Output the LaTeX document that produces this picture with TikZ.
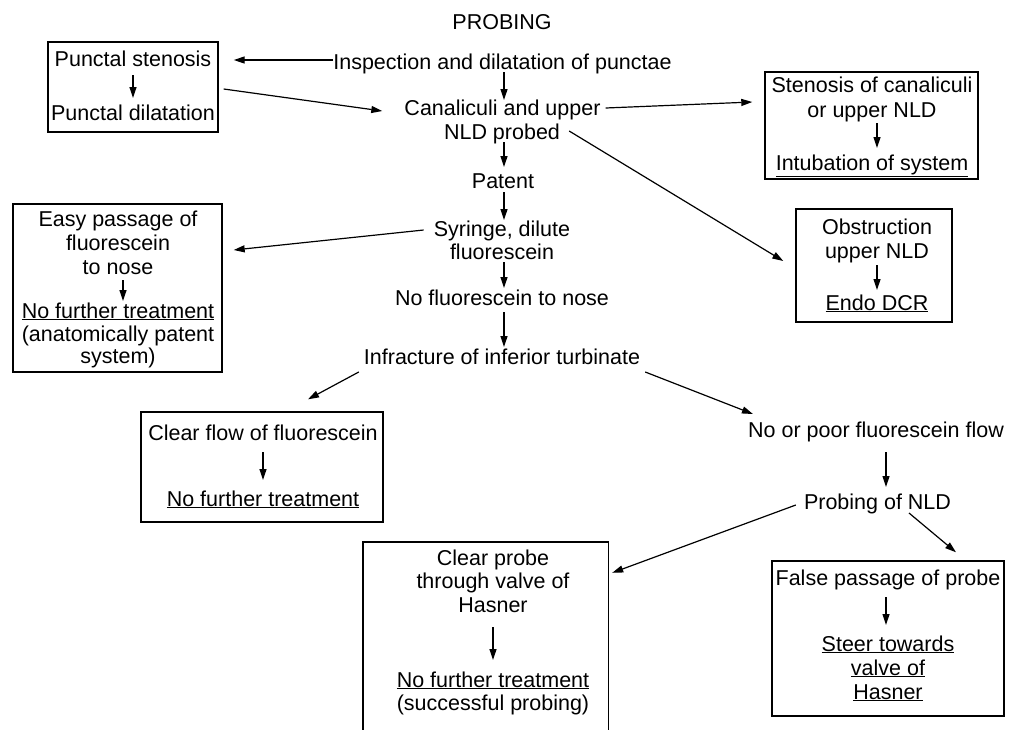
\documentclass[tikz,border=0pt]{standalone}
\usepackage{fontspec}
\setmainfont{Liberation Sans}
\usetikzlibrary{arrows.meta}
\begin{document}
\begin{tikzpicture}[x=1pt,y=-1pt,
  every node/.style={font=\fontsize{21.5}{24}\selectfont, inner sep=0pt},
  t/.style={anchor=base},
  boxline/.style={line width=1.4pt},
  bx/.style 2 args={draw, boxline, minimum width=#1, minimum height=#2},
  arr/.style={line width=1.2pt, -{Triangle[length=11pt,width=7pt]}}]
\useasboundingbox (0,0) rectangle (1010,729);

% main column
\node[t] (title) at (502,29) {PROBING};
\node[t] (insp) at (502.5,69) {Inspection and dilatation of punctae};
\node[t] (canal1) at (502.5,115) {Canaliculi and upper};
\node[t] (canal2) at (502,139) {NLD probed};
\node[t] (patent) at (503,188) {Patent};
\node[t] (syr1) at (502,236) {Syringe, dilute};
\node[t] (syr2) at (502,259) {fluorescein};
\node[t] (nofl) at (502,305) {No fluorescein to nose};
\node[t] (infr) at (502,364) {Infracture of inferior turbinate};
\node[t] (nopoor) at (876,437) {No or poor fluorescein flow};
\node[t] (probing) at (877.5,509) {Probing of NLD};

% punctal box
\node[bx={170pt}{90pt}] (pbox) at (133,87) {};
\node[t] (ps1) at (133,66) {Punctal stenosis};
\node[t] (ps2) at (133,120) {Punctal dilatation};
\draw[arr] ([yshift=-9pt]ps1.base) -- ([yshift=22pt]ps2.base);

% stenosis box
\node[bx={213pt}{107pt}] (sten) at (871.5,125.5) {};
\node[t] (st1) at (872,92) {Stenosis of canaliculi};
\node[t] (st2) at (872,117) {or upper NLD};
\node[t] (st3) at (872,170) {\underline{Intubation of system}};
\draw[arr] ([xshift=5pt,yshift=-6pt]st2.base) -- ([xshift=5pt,yshift=22pt]st3.base);

% obstruction box
\node[bx={156pt}{113pt}] (obst) at (874,265.5) {};
\node[t] (ob1) at (877,234) {Obstruction};
\node[t] (ob2) at (877,258) {upper NLD};
\node[t] (ob3) at (877,310) {\underline{Endo DCR}};
\draw[arr] ([yshift=-7pt]ob2.base) -- ([yshift=20pt]ob3.base);

% easy passage box
\node[bx={209pt}{168pt}] (easy) at (117.5,288) {};
\node[t] (ea1) at (118,226) {Easy passage of};
\node[t] (ea2) at (118,250) {fluorescein};
\node[t] (ea3) at (118,274) {to nose};
\node[t] (ea4) at (118,318) {\underline{No further treatment}};
\node[t] (ea5) at (118,341) {(anatomically patent};
\node[t] (ea6) at (118,363) {system)};
\draw[arr] ([xshift=5pt,yshift=-6pt]ea3.base) -- ([xshift=5pt,yshift=17pt]ea4.base);

% clear flow box
\node[bx={242pt}{110pt}] (cflow) at (262,467) {};
\node[t] (cf1) at (263,440) {Clear flow of fluorescein};
\node[t] (cf2) at (263,506) {\underline{No further treatment}};
\draw[arr] ([yshift=-12pt]cf1.base) -- ([yshift=26pt]cf2.base);

% false passage box
\node[bx={232pt}{155pt}] (fpbox) at (888,638.5) {};
\node[t] (fp1) at (888,585) {False passage of probe};
\node[t] (fp2) at (888,651) {\underline{Steer towards}};
\node[t] (fp3) at (888,675) {\underline{valve of}};
\node[t] (fp4) at (888,699) {\underline{Hasner}};
\draw[arr] ([xshift=-2pt,yshift=-12pt]fp1.base) -- ([xshift=-2pt,yshift=26pt]fp2.base);

% clear probe box (open at the bottom)
\node[minimum width=245pt, minimum height=190pt] (cpbox) at (485.5,637) {};
\draw[boxline] (cpbox.south west) -- (cpbox.north west) -- (cpbox.north east) -- (cpbox.south east);
\node[t] (cp1) at (493,565) {Clear probe};
\node[t] (cp2) at (493,588) {through valve of};
\node[t] (cp3) at (493,612) {Hasner};
\node[t] (cp4) at (493,687) {\underline{No further treatment}};
\node[t] (cp5) at (493,710) {(successful probing)};
\draw[arr] ([yshift=-15pt]cp3.base) -- ([yshift=27pt]cp4.base);

% connectors
\coordinate (inspL) at ([yshift=9pt]insp.base west);
\draw[arr, shorten >=15pt] (inspL) -- (inspL -| pbox.east);
\draw[arr] ([xshift=5pt,yshift=-2pt]pbox.east) -- ([xshift=-22pt,yshift=4pt]canal1.base west);
\draw[arr] ([xshift=1.5pt,yshift=-3pt]insp.base) -- ([xshift=1.5pt,yshift=15pt]canal1.base);
\draw[arr] ([xshift=5pt,yshift=7pt]canal1.base east) -- ([xshift=-12pt,yshift=23.5pt]sten.west);
\draw[arr] ([xshift=9pt,yshift=8pt]canal2.base east) -- ([xshift=-12pt,yshift=4.5pt]obst.west);
\draw[arr] ([xshift=2pt,yshift=-3pt]canal2.base) -- ([xshift=1pt,yshift=21pt]patent.base);
\draw[arr] ([xshift=1pt,yshift=-4pt]patent.base) -- ([xshift=2pt,yshift=16pt]syr1.base);
\draw[arr] ([xshift=2pt,yshift=-3pt]syr2.base) -- ([xshift=2pt,yshift=17pt]nofl.base);
\draw[arr] ([xshift=2pt,yshift=-7pt]nofl.base) -- ([xshift=2pt,yshift=17pt]infr.base);
\draw[arr] ([xshift=-10pt,yshift=6pt]syr1.base west) -- ([xshift=11pt,yshift=38pt]easy.east);
\draw[arr] ([xshift=-5pt,yshift=-8pt]infr.base west) -- ([xshift=46pt,yshift=12pt]cflow.north);
\draw[arr] ([xshift=5pt,yshift=-8pt]infr.base east) -- ([xshift=5pt,yshift=23pt]nopoor.base west);
\draw[arr] ([xshift=10pt,yshift=-15pt]nopoor.base) -- ([xshift=8.5pt,yshift=22pt]probing.base);
\draw[arr] ([xshift=-8pt,yshift=4pt]probing.base west) -- ([xshift=4pt,yshift=-31pt]cpbox.north east);
\draw[arr] ([xshift=31.5pt,yshift=-4pt]probing.base) -- ([xshift=68pt,yshift=8pt]fpbox.north);
\end{tikzpicture}
\end{document}
